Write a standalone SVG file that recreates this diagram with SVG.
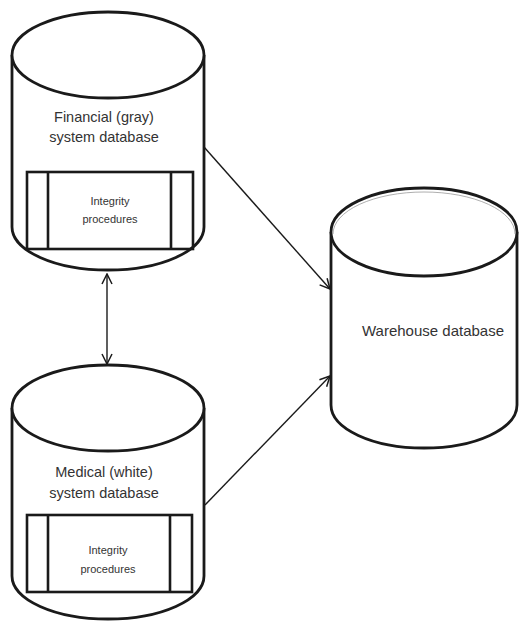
<svg xmlns="http://www.w3.org/2000/svg" width="519" height="621" viewBox="0 0 519 621">
<defs>
<style>
.cyl{fill:#fff;stroke:#1a1a1a;stroke-width:2.8;}
.box{fill:none;stroke:#1a1a1a;stroke-width:2.6;}
.lbl{font-family:"Liberation Sans",Arial,sans-serif;fill:#333;text-anchor:middle;}
.big{font-size:14.5px;}
.small{font-size:11px;}
.conn{stroke:#1a1a1a;stroke-width:1.4;fill:none;}
</style>
<marker id="arr" viewBox="0 0 12 12" refX="11" refY="6" markerWidth="12" markerHeight="12" markerUnits="userSpaceOnUse" orient="auto-start-reverse">
<path d="M1,1 L11,6 L1,11" fill="none" stroke="#1a1a1a" stroke-width="1.5"/>
</marker>
</defs>
<rect width="519" height="621" fill="#fff"/>

<g id="financial">
<path class="cyl" d="M12,55 L12,227 A96,43 0 0 0 204,227 L204,55"/>
<ellipse class="cyl" cx="108" cy="55" rx="96" ry="43"/>
<text class="lbl big" x="104" y="122">Financial (gray)</text>
<text class="lbl big" x="104" y="142">system database</text>
<rect class="box" x="27" y="172" width="166" height="77"/>
<line class="box" x1="48" y1="172" x2="48" y2="249"/>
<line class="box" x1="171" y1="172" x2="171" y2="249"/>
<text class="lbl small" x="110" y="205">Integrity</text>
<text class="lbl small" x="110" y="223">procedures</text>
</g>

<g id="medical">
<path class="cyl" d="M12,408 L12,576 A96,43 0 0 0 204,576 L204,408"/>
<ellipse class="cyl" cx="108" cy="408" rx="96" ry="43"/>
<text class="lbl big" x="104" y="477">Medical (white)</text>
<text class="lbl big" x="104" y="498">system database</text>
<rect class="box" x="27" y="515" width="165" height="77"/>
<line class="box" x1="48" y1="515" x2="48" y2="592"/>
<line class="box" x1="170" y1="515" x2="170" y2="592"/>
<text class="lbl small" x="108" y="554">Integrity</text>
<text class="lbl small" x="108" y="573">procedures</text>
</g>

<g id="warehouse">
<path class="cyl" d="M331,232 L331,405 A93,43 0 0 0 517,405 L517,232"/>
<ellipse class="cyl" cx="424" cy="232" rx="93" ry="44"/>
<path d="M333,232 A91,42 0 0 1 515,232" fill="none" stroke="#999" stroke-width="0.8" transform="translate(0,2)"/>
<text class="lbl" style="font-size:15px" x="433" y="336">Warehouse database</text>
</g>

<g id="connectors">
<line class="conn" x1="204" y1="147" x2="330" y2="289" marker-end="url(#arr)"/>
<line class="conn" x1="205" y1="505" x2="330" y2="376" marker-end="url(#arr)"/>
<line class="conn" x1="107" y1="274" x2="107" y2="364" marker-start="url(#arr)" marker-end="url(#arr)"/>
</g>
</svg>
